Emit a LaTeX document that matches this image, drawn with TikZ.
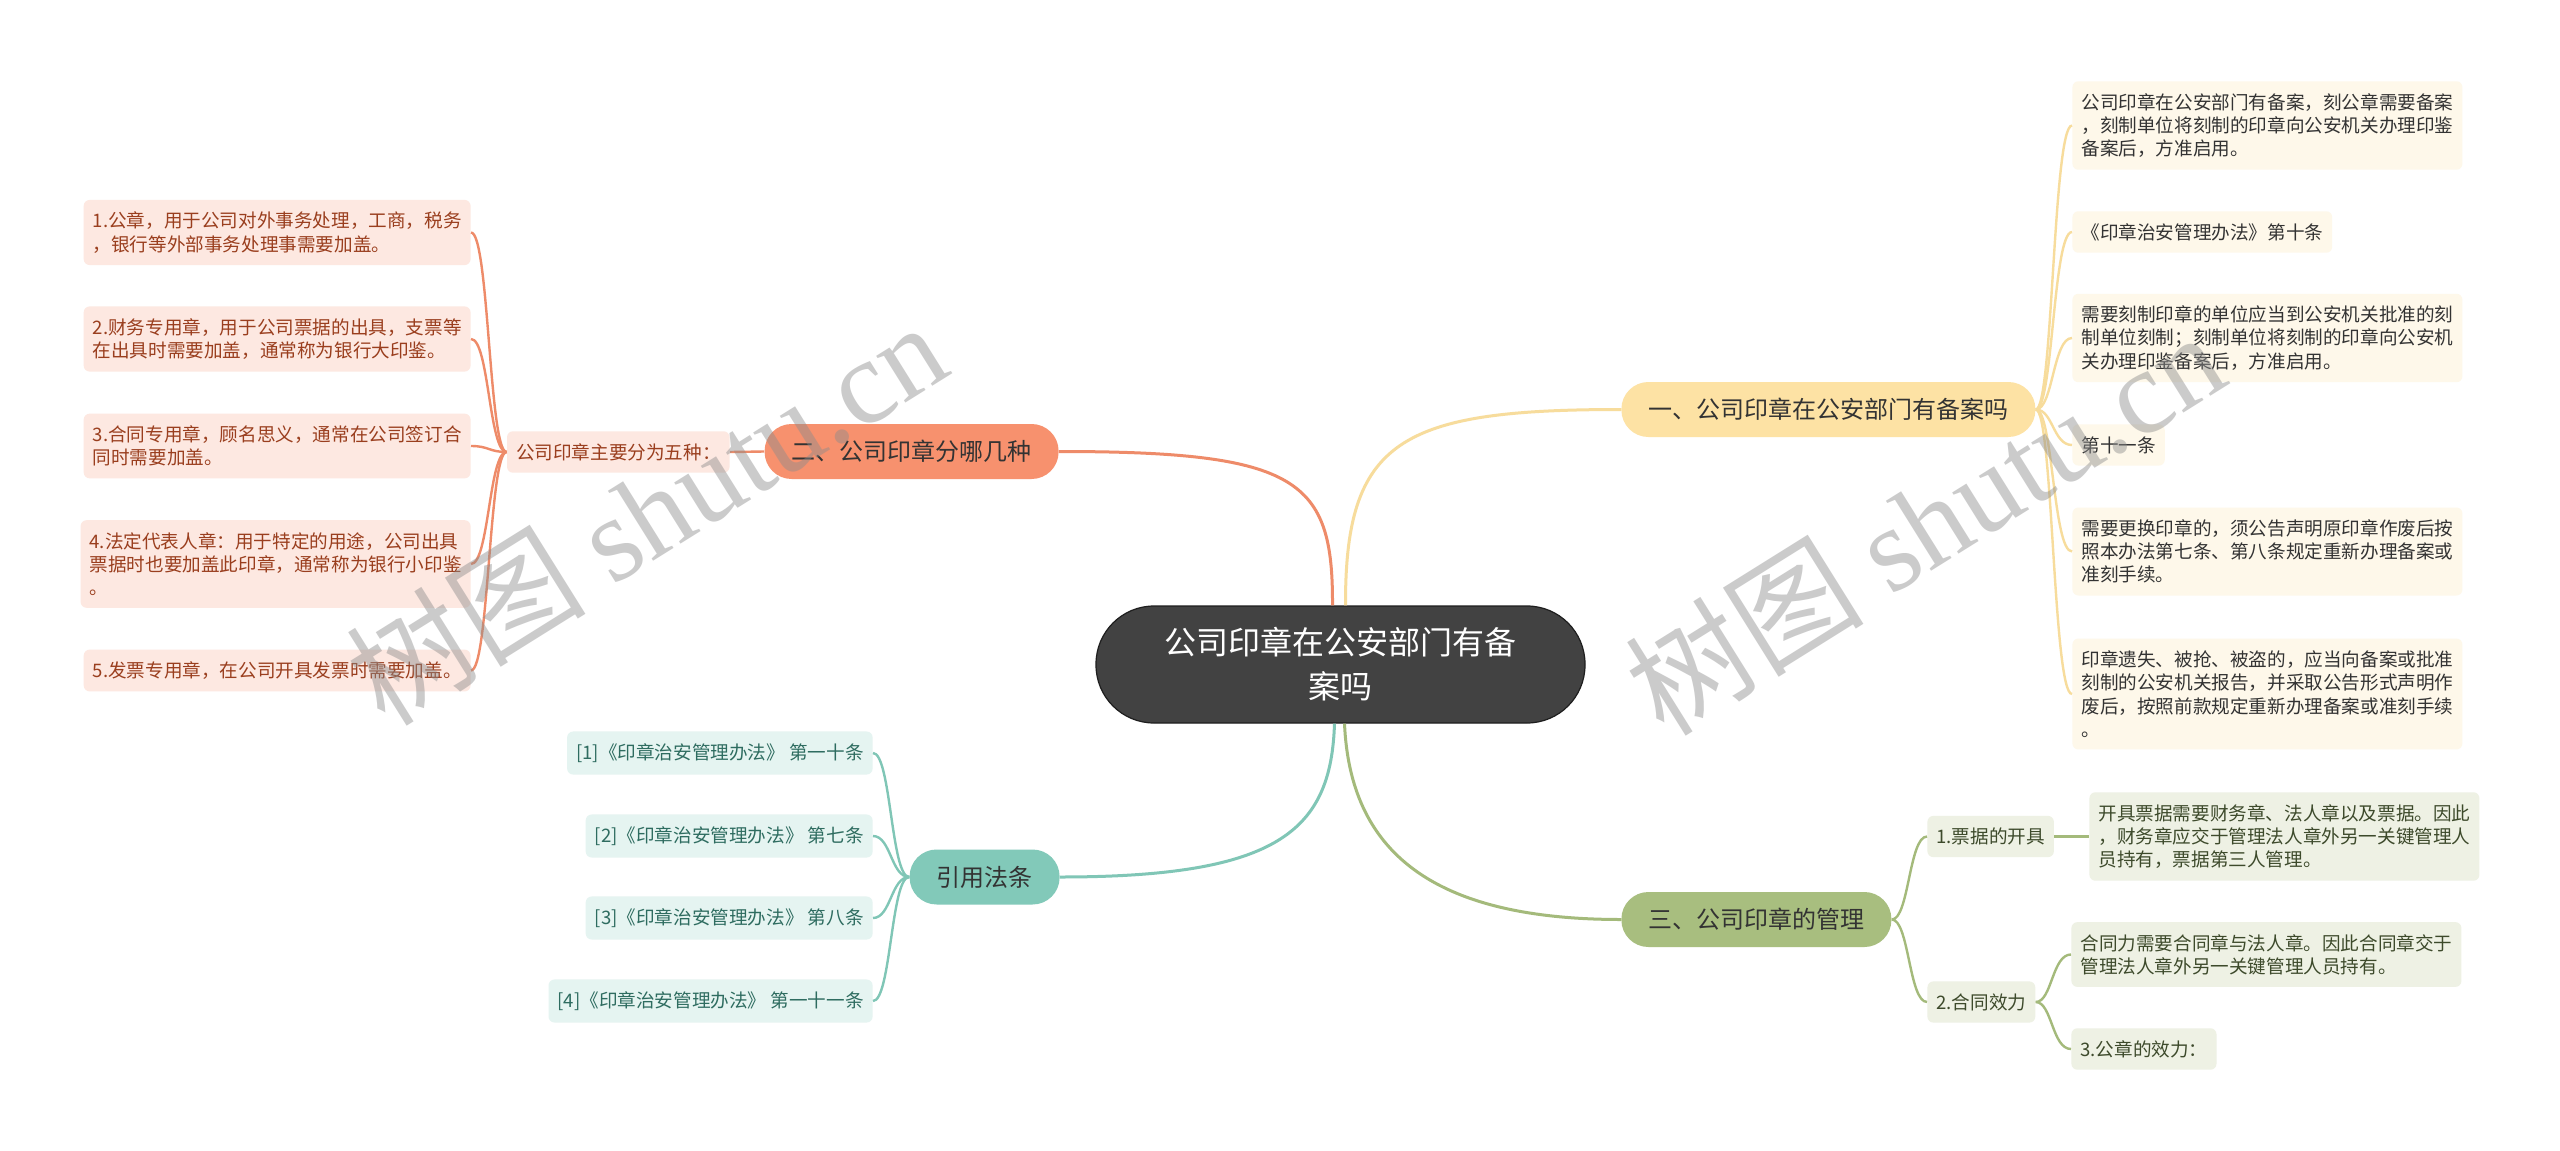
\documentclass[tikz,border=0pt]{standalone}
\usepackage{fontspec}
\setmainfont{Noto Sans CJK SC}
\newfontfamily\wmlatin{Liberation Serif}
\definecolor{rootfill}{HTML}{424242}
\definecolor{rootline}{HTML}{1E1E1E}
\definecolor{yelmain}{HTML}{FDE2A4}
\definecolor{yelline}{HTML}{F7DC9C}
\definecolor{yelleaf}{HTML}{FEF8EA}
\definecolor{ormain}{HTML}{F7916E}
\definecolor{orline}{HTML}{EE8B69}
\definecolor{orleaf}{HTML}{FDE8E1}
\definecolor{ortext}{HTML}{9A3E1E}
\definecolor{temain}{HTML}{82C9B9}
\definecolor{teline}{HTML}{80C6B6}
\definecolor{teleaf}{HTML}{E5F4F1}
\definecolor{tetext}{HTML}{2E6C60}
\definecolor{grmain}{HTML}{A8BE7F}
\definecolor{grline}{HTML}{A4BA7B}
\definecolor{grleaf}{HTML}{EEF1E4}
\definecolor{grtext}{HTML}{3D4A2B}
\definecolor{darktext}{HTML}{333333}
\tikzset{
  rootbox/.style={fill=rootfill, draw=rootline, line width=0.6pt, rounded corners=29pt,
    minimum width=244.5pt, minimum height=58.5pt, align=center, text=white,
    font=\fontsize{16pt}{22pt}\selectfont},
  mainbox/.style={rounded corners=13.5pt, minimum height=27.5pt, inner xsep=13.5pt,
    inner ysep=0pt, text=darktext, font=\fontsize{12pt}{14pt}\selectfont},
  leafbox/.style={rounded corners=3pt, inner xsep=4.5pt, inner ysep=6pt, align=left,
    font=\fontsize{9.3pt}{11.65pt}\selectfont},
  yleaf/.style={leafbox, fill=yelleaf, text=darktext},
  oleaf/.style={leafbox, fill=orleaf, text=ortext},
  tleaf/.style={leafbox, fill=teleaf, text=tetext},
  gleaf/.style={leafbox, fill=grleaf, text=grtext},
  mainlink/.style={line width=1.5pt},
  leaflink/.style={line width=1.2pt},
  watermark/.style={text=black!45, opacity=0.45, font=\fontsize{60pt}{64pt}\selectfont}
}
\begin{document}
\begin{tikzpicture}[x=0.5pt,y=-0.5pt]
\useasboundingbox (0,0) rectangle (2560,1151);
\fill[white] (0,0) rectangle (2560,1151);

% root
\node[rootbox] (root) at (1340.5,664.5) {公司印章在公安部门有备\\案吗};

% main branches
\node[mainbox, fill=yelmain, anchor=west] (b1) at (1621,409.5) {一、公司印章在公安部门有备案吗};
\node[mainbox, fill=ormain, anchor=east] (b2) at (1059,451.5) {二、公司印章分哪几种};
\node[mainbox, fill=temain, anchor=east] (b4) at (1060,877) {引用法条};
\node[mainbox, fill=grmain, anchor=west] (b3) at (1621,919.5) {三、公司印章的管理};

% orange branch
\node[oleaf, anchor=east] (o0) at (730,452) {公司印章主要分为五种：};
\node[oleaf, anchor=east] (o1) at (471,232.5) {1.公章，用于公司对外事务处理，工商，税务\\，银行等外部事务处理事需要加盖。};
\node[oleaf, anchor=east] (o2) at (471,339) {2.财务专用章，用于公司票据的出具，支票等\\在出具时需要加盖，通常称为银行大印鉴。};
\node[oleaf, anchor=east] (o3) at (471,446) {3.合同专用章，顾名思义，通常在公司签订合\\同时需要加盖。};
\node[oleaf, anchor=east] (o4) at (471,564) {4.法定代表人章：用于特定的用途，公司出具\\票据时也要加盖此印章，通常称为银行小印鉴\\。};
\node[oleaf, anchor=east] (o5) at (471,670.5) {5.发票专用章，在公司开具发票时需要加盖。};

% yellow branch
\node[yleaf, anchor=west] (y1) at (2072,125.5) {公司印章在公安部门有备案，刻公章需要备案\\，刻制单位将刻制的印章向公安机关办理印鉴\\备案后，方准启用。};
\node[yleaf, anchor=west] (y2) at (2072,232) {《印章治安管理办法》第十条};
\node[yleaf, anchor=west] (y3) at (2072,338) {需要刻制印章的单位应当到公安机关批准的刻\\制单位刻制；刻制单位将刻制的印章向公安机\\关办理印鉴备案后，方准启用。};
\node[yleaf, anchor=west] (y4) at (2072,445) {第十一条};
\node[yleaf, anchor=west] (y5) at (2072,551.5) {需要更换印章的，须公告声明原印章作废后按\\照本办法第七条、第八条规定重新办理备案或\\准刻手续。};
\node[yleaf, anchor=west] (y6) at (2072,694) {印章遗失、被抢、被盗的，应当向备案或批准\\刻制的公安机关报告，并采取公告形式声明作\\废后，按照前款规定重新办理备案或准刻手续\\。};

% teal branch
\node[tleaf, anchor=east] (t1) at (873,753) {[1]《印章治安管理办法》 第一十条};
\node[tleaf, anchor=east] (t2) at (873,836) {[2]《印章治安管理办法》 第七条};
\node[tleaf, anchor=east] (t3) at (873,918) {[3]《印章治安管理办法》 第八条};
\node[tleaf, anchor=east] (t4) at (873,1001) {[4]《印章治安管理办法》 第一十一条};

% green branch
\node[gleaf, anchor=west] (g1) at (1927,836.5) {1.票据的开具};
\node[gleaf, anchor=west] (g2) at (2089,836.5) {开具票据需要财务章、法人章以及票据。因此\\，财务章应交于管理法人章外另一关键管理人\\员持有，票据第三人管理。};
\node[gleaf, anchor=west] (g3) at (1927,1002) {2.合同效力};
\node[gleaf, anchor=west] (g4) at (2071,954.5) {合同力需要合同章与法人章。因此合同章交于\\管理法人章外另一关键管理人员持有。};
\node[gleaf, anchor=west] (g5) at (2071,1049) {3.公章的效力：};

% main connectors
\draw[mainlink, yelline] ([xshift=2.5pt]root.north) .. controls (1345,440) and (1400,409.5) .. (b1.west);
\draw[mainlink, orline] ([xshift=-4pt]root.north) .. controls (1333,480) and (1300,451.5) .. (b2.east);
\draw[mainlink, teline] ([xshift=-3pt]root.south) .. controls (1331,830) and (1280,877) .. (b4.east);
\draw[mainlink, grline] ([xshift=2pt]root.south) .. controls (1350,850) and (1430,919.5) .. (b3.west);

% orange leaf connectors
\draw[leaflink, orline] (b2.west) -- (o0.east);
\foreach \n/\yy in {o1/232.5,o2/339,o3/446,o4/564,o5/670.5}
  \draw[leaflink, orline] (o0.west) .. controls (489,452) and (489,\yy) .. (\n.east);

% yellow leaf connectors
\foreach \n/\yy in {y1/125.5,y2/232,y3/338,y4/445,y5/551.5,y6/694}
  \draw[leaflink, yelline] (b1.east) .. controls (2053,409.5) and (2053,\yy) .. (\n.west);

% teal leaf connectors
\foreach \n/\yy in {t1/753,t2/836,t3/918,t4/1001}
  \draw[leaflink, teline] (b4.west) .. controls (891,877) and (891,\yy) .. (\n.east);

% green leaf connectors
\draw[leaflink, grline] (b3.east) .. controls (1909,919.5) and (1909,836.5) .. (g1.west);
\draw[leaflink, grline] (b3.east) .. controls (1909,919.5) and (1909,1002) .. (g3.west);
\draw[leaflink, grline] (g1.east) -- (g2.west);
\draw[leaflink, grline] (g3.east) .. controls (2052,1002) and (2052,954.5) .. (g4.west);
\draw[leaflink, grline] (g3.east) .. controls (2052,1002) and (2052,1049) .. (g5.west);

% watermarks
\node[watermark, rotate=32] (wm1) at (646,512) {树图 {\wmlatin shutu.cn}};
\node[watermark, rotate=32] (wm2) at (1924,522) {树图 {\wmlatin shutu.cn}};
\end{tikzpicture}
\end{document}
